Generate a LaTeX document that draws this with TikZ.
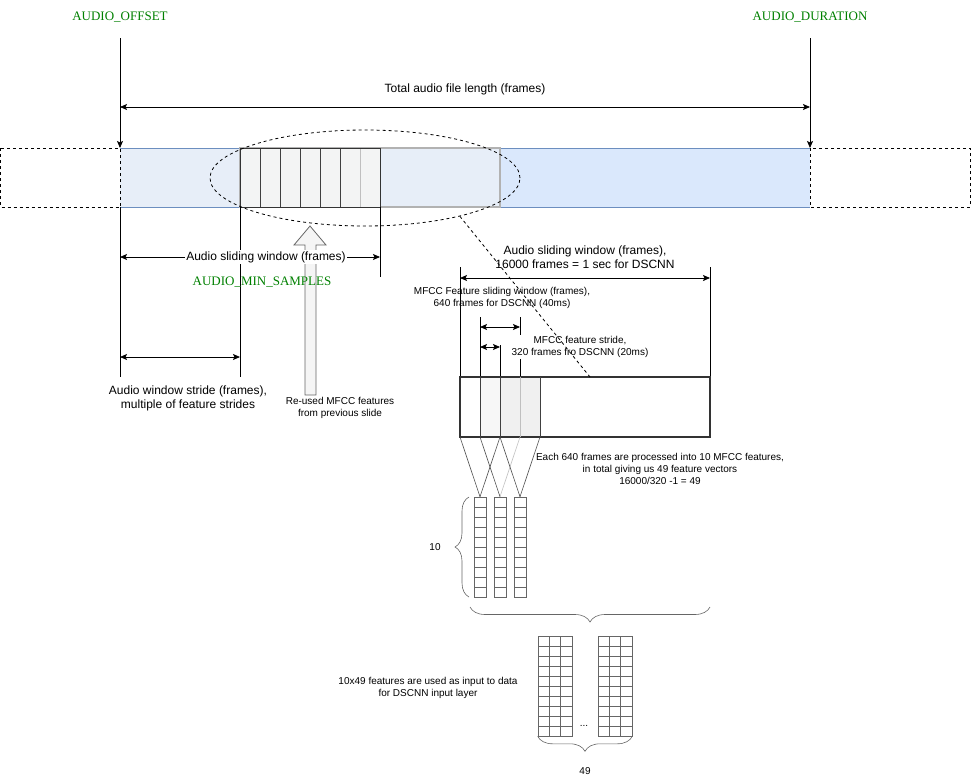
\documentclass[tikz,border=0pt]{standalone}
\usepackage{fontspec}
\setmainfont{Liberation Sans}
\newfontfamily\codefont{Liberation Serif}
\usetikzlibrary{arrows.meta,shapes.geometric,decorations.pathreplacing}
\definecolor{codegreen}{RGB}{0,128,0}
\definecolor{barblue}{HTML}{DAE8FC}
\definecolor{barlight}{HTML}{E7EEF8}
\definecolor{barline}{HTML}{6C8EBF}
\definecolor{cellgray}{HTML}{F3F4F4}
\definecolor{edgegray}{HTML}{666666}

\begin{document}
\begin{tikzpicture}[x=1pt, y=-1pt, line width=0.8pt,
    >={Stealth[length=7pt, width=6pt, inset=1.5pt]},
    big/.style={font=\fontsize{12}{14}\selectfont, align=center, inner sep=1pt},
    small/.style={font=\fontsize{10}{12}\selectfont, align=center, inner sep=1pt},
    code/.style={font=\codefont\fontsize{13}{15}\selectfont, text=codegreen},
    dashline/.style={dash pattern=on 3pt off 3pt},
    curly/.style={decorate, decoration={brace, amplitude=#1}, draw=edgegray, line width=0.6pt},
    gridline/.style={draw=edgegray, line width=0.6pt}]
    \useasboundingbox (0, 0) rectangle (971, 782);

    \node[code] (Offset Label) at (120, 17) {AUDIO\_OFFSET};
    \node[code] (Duration Label) at (810, 17) {AUDIO\_DURATION};
    \coordinate (Offset Top) at (120, 38);
    \coordinate (Offset Bar) at (120, 148);
    \coordinate (Duration Top) at (810, 38);
    \coordinate (Duration Bar) at (810, 148);
    \coordinate (Total Left) at (120, 107);
    \coordinate (Total Right) at (810, 107);
    \draw[->] (Offset Top) -- (Offset Bar);
    \draw[->] (Duration Top) -- (Duration Bar);
    \draw[<->] (Total Left) -- (Total Right);
    \node[big] (Total Label) at (465, 89) {Total audio file length (frames)};

    \fill[barlight] (120, 148) rectangle (500, 207);
    \fill[barblue] (500, 148) rectangle (810, 207);
    \draw[barline] (120, 148) -- (810, 148) (120, 207) -- (810, 207);
    \draw[dashline, fill=white] (0.5, 148) rectangle (120, 207);
    \draw[dashline, fill=white] (810, 148) rectangle (970, 207);
    \draw[black!30, line width=2pt] (240, 148) rectangle (500, 207);
    \fill[cellgray] (240, 148) rectangle (380, 207);
    \foreach \x in {260, 280, ..., 340} \draw[black!75] (\x, 148) -- (\x, 207);
    \draw[black!25] (360, 148) -- (360, 207);
    \draw[black!80] (240, 148) rectangle (380, 207);
    \node[ellipse, draw, dashline, minimum width=310pt, minimum height=96pt, inner sep=0pt] (Reuse Ellipse) at (365, 178) {};

    \coordinate (Start Low) at (120, 207);
    \coordinate (Start Foot) at (120, 377);
    \coordinate (Stride Low) at (240, 207);
    \coordinate (Stride Foot) at (240, 377);
    \coordinate (Slide Low) at (380, 207);
    \coordinate (Slide Foot) at (380, 277);
    \coordinate (Slide Left) at (120, 257);
    \coordinate (Slide Right) at (380, 257);
    \coordinate (Stride Left) at (120, 357);
    \coordinate (Stride Right) at (240, 357);
    \draw (Start Low) -- (Start Foot);
    \draw (Stride Low) -- (Stride Foot);
    \draw (Slide Low) -- (Slide Foot);
    \draw[edgegray, fill=black!4] (305, 395) -- (305, 245) -- (294, 245) -- (310, 226) -- (326, 245) -- (316, 245) -- (316, 395) -- cycle;
    \draw[<->] (Slide Left) -- (Slide Right);
    \draw[<->] (Stride Left) -- (Stride Right);
    \node[big, fill=white] (Slide Label) at (266, 257) {Audio sliding window (frames)};
    \node[code] (Min Samples Label) at (262, 282) {AUDIO\_MIN\_SAMPLES};
    \node[big] (Stride Label) at (188, 398) {Audio window stride (frames),\\multiple of feature strides};
    \node[small] (Reuse Label) at (340, 408) {Re-used MFCC features\\from previous slide};

    \node[big] (Window Label) at (585, 257) {Audio sliding window (frames),\\16000 frames = 1 sec for DSCNN};
    \coordinate (Window Left Top) at (460, 267);
    \coordinate (Window Left Low) at (460, 377);
    \coordinate (Window Right Top) at (710, 267);
    \coordinate (Window Right Low) at (710, 377);
    \coordinate (Window Left) at (460, 278);
    \coordinate (Window Right) at (710, 278);
    \draw (Window Left Top) -- (Window Left Low);
    \draw (Window Right Top) -- (Window Right Low);
    \draw[<->] (Window Left) -- (Window Right);
    \node[small] (Feature Window Label) at (502, 298) {MFCC Feature sliding window (frames),\\640 frames for DSCNN (40ms)};

    \fill[black!3] (480, 377) rectangle (500, 437);
    \fill[black!6] (500, 377) rectangle (540, 437);
    \coordinate (Feature Left Top) at (480, 317);
    \coordinate (Feature Left Low) at (480, 377);
    \coordinate (Feature Right Top) at (520, 317);
    \coordinate (Feature Right Low) at (520, 377);
    \coordinate (Step Right Top) at (500, 345);
    \coordinate (Step Right Low) at (500, 377);
    \draw (Feature Left Top) -- (Feature Left Low);
    \draw (Feature Right Top) -- (Feature Right Low);
    \draw (Step Right Top) -- (Step Right Low);
    \coordinate (Feature Left) at (480, 327);
    \coordinate (Feature Right) at (520, 327);
    \coordinate (Step Left) at (480, 347);
    \coordinate (Step Right) at (500, 347);
    \draw[<->] (Feature Left) -- (Feature Right);
    \draw[<->] (Step Left) -- (Step Right);
    \node[small, fill=white] (Feature Stride Label) at (580, 347) {MFCC feature stride,\\320 frames fro DSCNN (20ms)};

    \node[draw=black!80, line width=2pt, minimum width=250pt, minimum height=60pt, inner sep=0pt] (MFCC Frames) at (585, 407) {};
    \draw[black!75] (480, 377) -- (480, 437);
    \draw[black!75] (500, 377) -- (500, 437);
    \draw[black!25] (520, 377) -- (520, 437);
    \draw[black!75] (540, 377) -- (540, 437);
    \coordinate (Zoom End) at (590, 377);
    \draw[dashline] (Reuse Ellipse.-22) -- (Zoom End);

    \node[gridline, minimum width=12pt, minimum height=100pt, inner sep=0pt] (Vector A) at (480, 547) {};
    \node[gridline, minimum width=12pt, minimum height=100pt, inner sep=0pt] (Vector B) at (500, 547) {};
    \node[gridline, minimum width=12pt, minimum height=100pt, inner sep=0pt] (Vector C) at (520, 547) {};
    \foreach \x in {474, 494, 514}
      \foreach \y in {507, 517, ..., 587}
        \draw[gridline] (\x, \y) -- ++(12, 0);
    \coordinate (Frame 0) at (460, 437);
    \coordinate (Frame 1) at (480, 437);
    \coordinate (Frame 2) at (500, 437);
    \coordinate (Frame 3) at (520, 437);
    \coordinate (Frame 4) at (540, 437);
    \draw[black!70, line width=0.6pt] (Frame 0) -- (Vector A.north);
    \draw[black!70, line width=0.6pt] (Frame 2) -- (Vector A.north);
    \draw[black!70, line width=0.6pt] (Frame 1) -- (Vector B.north);
    \draw[black!25, line width=0.6pt] (Frame 3) -- (Vector B.north);
    \draw[black!70, line width=0.6pt] (Frame 2) -- (Vector C.north);
    \draw[black!70, line width=0.6pt] (Frame 4) -- (Vector C.north);
    \node[small] (Each Label) at (660, 469) {\fontsize{10}{11.5}\selectfont Each 640 frames are processed into 10 MFCC features,\\in total giving us 49 feature vectors\\16000/320 -1 = 49};

    \coordinate (Rows Low) at (469, 597);
    \coordinate (Rows Top) at (469, 497);
    \draw[curly=14pt] (Rows Low) -- (Rows Top);
    \node[small] (Rows Label) at (435, 547) {10};
    \coordinate (Vectors Right) at (710, 607);
    \coordinate (Vectors Left) at (470, 607);
    \draw[curly=15pt] (Vectors Right) -- (Vectors Left);

    \node[gridline, minimum width=34pt, minimum height=100pt, inner sep=0pt] (First Matrix) at (555, 686) {};
    \node[gridline, minimum width=34pt, minimum height=100pt, inner sep=0pt] (Last Matrix) at (615, 686) {};
    \foreach \x in {538, 598} {
      \foreach \y in {646, 656, ..., 726} \draw[gridline] (\x, \y) -- ++(34, 0);
      \draw[gridline] (\x + 11.33, 636) -- ++(0, 100);
      \draw[gridline] (\x + 22.67, 636) -- ++(0, 100);
    }
    \node[small] (Dots Label) at (584, 726) {...};
    \draw[curly=15pt] (Last Matrix.south east) -- (First Matrix.south west);
    \node[small] (Columns Label) at (585, 771) {49};
    \node[small] (Input Label) at (428, 688) {10x49 features are used as input to data\\for DSCNN input layer};
\end{tikzpicture}
\end{document}
